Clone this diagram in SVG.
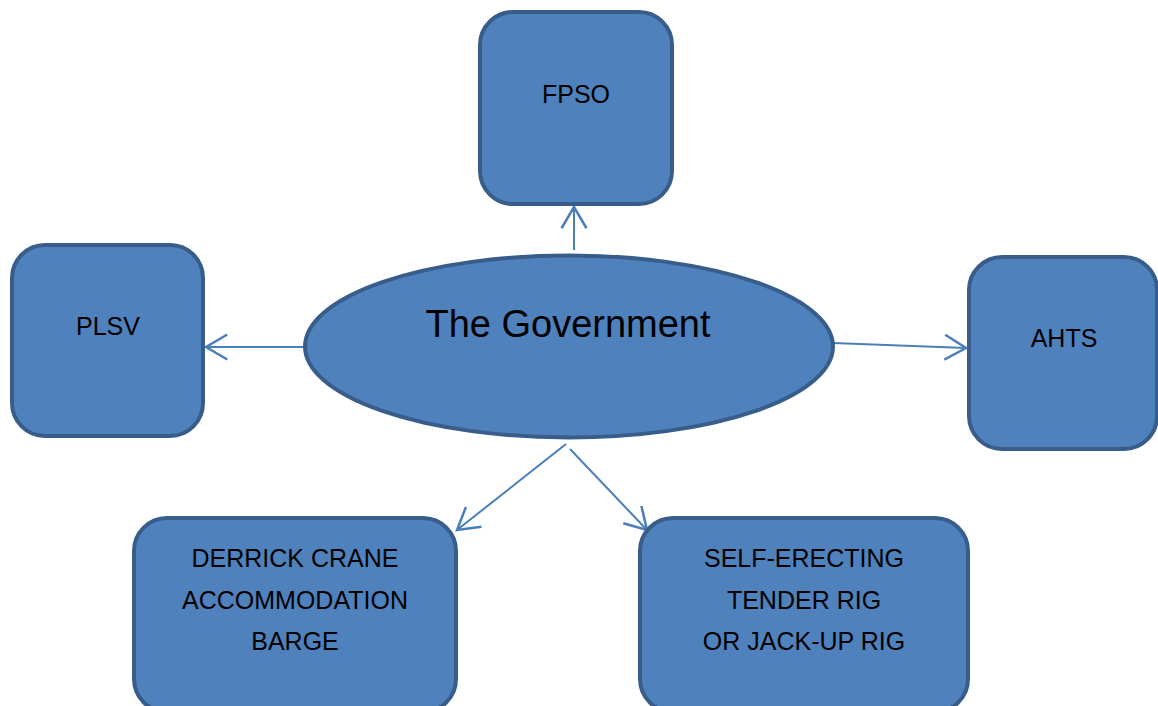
<svg xmlns="http://www.w3.org/2000/svg" width="1158" height="706" viewBox="0 0 1158 706">
<defs>
<style>
.box{fill:#4F81BD;stroke:#385D8A;stroke-width:4}
.lbl{font-family:"Liberation Sans",Arial,sans-serif;font-size:25px;fill:#000;text-anchor:middle}
.big{font-size:38px}
.conn{stroke:#4A7EBB;stroke-width:2;fill:none}
</style>
<marker id="arr" markerUnits="userSpaceOnUse" markerWidth="30" markerHeight="30" refX="0" refY="0" viewBox="-20 -12 22 24" orient="auto">
<path d="M-17,-10 L0,0 L-17,10" fill="none" stroke="#4A7EBB" stroke-width="2"/>
</marker>
</defs>
<rect width="1158" height="706" fill="#fff"/>
<g id="connectors">
<line class="conn" x1="574" y1="250" x2="574" y2="207" marker-end="url(#arr)"/>
<line class="conn" x1="305" y1="347" x2="206" y2="347" marker-end="url(#arr)"/>
<line class="conn" x1="833" y1="343" x2="966" y2="348" marker-end="url(#arr)"/>
<line class="conn" x1="566" y1="444" x2="457" y2="530" marker-end="url(#arr)"/>
<line class="conn" x1="570" y1="449" x2="647" y2="530" marker-end="url(#arr)"/>
</g>
<g id="government">
<ellipse class="box" cx="569" cy="346.5" rx="264" ry="91"/>
<text class="lbl big" x="568" y="337">The Government</text>
</g>
<g id="fpso">
<rect class="box" x="480" y="12" width="192" height="192" rx="33"/>
<text class="lbl" x="576" y="103">FPSO</text>
</g>
<g id="plsv">
<rect class="box" x="12" y="245" width="191" height="191" rx="33"/>
<text class="lbl" x="108" y="335">PLSV</text>
</g>
<g id="ahts">
<rect class="box" x="969" y="257" width="188" height="192" rx="33"/>
<text class="lbl" x="1064" y="347">AHTS</text>
</g>
<g id="derrick">
<rect class="box" x="134" y="518" width="322" height="194" rx="33"/>
<text class="lbl" x="295" y="567">DERRICK CRANE</text>
<text class="lbl" x="295" y="609">ACCOMMODATION</text>
<text class="lbl" x="295" y="650">BARGE</text>
</g>
<g id="tender">
<rect class="box" x="640" y="518" width="328" height="194" rx="33"/>
<text class="lbl" x="804" y="567">SELF-ERECTING</text>
<text class="lbl" x="804" y="609">TENDER RIG</text>
<text class="lbl" x="804" y="650">OR JACK-UP RIG</text>
</g>
</svg>
